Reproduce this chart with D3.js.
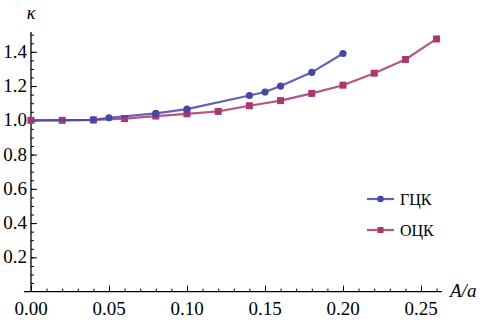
<!DOCTYPE html>
<html>
<head>
<meta charset="utf-8">
<script src="https://cdn.jsdelivr.net/npm/d3@7"></script>
<style>
  body { margin: 0; background: #fff; }
</style>
</head>
<body>
<div id="chart"></div>
<script>
var canvasWidth = 487;
var canvasHeight = 323;

/*Data*/
var fccX = [0, 0.04, 0.05, 0.08, 0.10, 0.14, 0.15, 0.16, 0.18, 0.20];
var fccK = [1.0, 1.003, 1.015, 1.04, 1.065, 1.145, 1.165, 1.2, 1.28, 1.39];
var bccX = [0, 0.02, 0.04, 0.06, 0.08, 0.10, 0.12, 0.14, 0.16, 0.18, 0.20, 0.22, 0.24, 0.26];
var bccK = [1.0, 1.0, 1.002, 1.01, 1.025, 1.038, 1.052, 1.085, 1.115, 1.157, 1.205, 1.275, 1.355, 1.475];
var seriesNames = ["ГЦК", "ОЦК"];
var xTicks = [0, 0.05, 0.10, 0.15, 0.20, 0.25];
var yTicks = [0.2, 0.4, 0.6, 0.8, 1.0, 1.2, 1.4];

var blue = "#4646a6";
var pink = "#a8386f";
var serif = "'Liberation Serif', 'Times New Roman', 'DejaVu Serif', serif";

var svg = d3.select("div#chart").append("svg")
    .attr("width", canvasWidth)
    .attr("height", canvasHeight)
    .style("font-family", serif);

/*Scales*/
var xScale = d3.scaleLinear().domain([0, 0.25]).range([31, 421]);
var yScale = d3.scaleLinear().domain([0, 1.4]).range([291.6, 51.8]);

/*Axis lines*/
var axes = svg.append("g").attr("stroke", "#000").attr("stroke-width", 1.3);
axes.append("line")
    .attr("x1", 24).attr("x2", 442)
    .attr("y1", yScale(0)).attr("y2", yScale(0));
axes.append("line")
    .attr("x1", xScale(0)).attr("x2", xScale(0))
    .attr("y1", yScale(0)).attr("y2", 32);

/*Ticks, drawn inward like Mathematica*/
var xMinor = d3.range(0, 27).map(function (i) { return i / 100; });
svg.append("g")
    .attr("transform", "translate(0," + yScale(0) + ")")
    .call(d3.axisTop(xScale).tickValues(xMinor).tickSize(3).tickFormat(""))
    .call(function (g) { g.select(".domain").remove(); });
svg.append("g")
    .attr("transform", "translate(0," + yScale(0) + ")")
    .call(d3.axisTop(xScale).tickValues(xTicks).tickSize(6).tickFormat(""))
    .call(function (g) { g.select(".domain").remove(); });

var yMinor = d3.range(1, 31).map(function (i) { return i * 0.05; });
svg.append("g")
    .attr("transform", "translate(" + xScale(0) + ",0)")
    .call(d3.axisRight(yScale).tickValues(yMinor).tickSize(3).tickFormat(""))
    .call(function (g) { g.select(".domain").remove(); });
svg.append("g")
    .attr("transform", "translate(" + xScale(0) + ",0)")
    .call(d3.axisRight(yScale).tickValues(yTicks).tickSize(6).tickFormat(""))
    .call(function (g) { g.select(".domain").remove(); });

/*Tick labels*/
svg.append("g").selectAll("text")
    .data(xTicks)
    .join("text")
    .attr("x", function (d) { return xScale(d); })
    .attr("y", 315)
    .attr("text-anchor", "middle")
    .style("font-size", "19px")
    .text(function (d) { return d3.format(".2f")(d); });

svg.append("g").selectAll("text")
    .data(yTicks)
    .join("text")
    .attr("x", 27)
    .attr("y", function (d) { return yScale(d) + 6; })
    .attr("text-anchor", "end")
    .style("font-size", "19px")
    .text(function (d) { return d3.format(".1f")(d); });

/*Axis titles*/
svg.append("text")
    .attr("x", 31).attr("y", 19)
    .attr("text-anchor", "middle")
    .style("font-size", "18px")
    .style("font-style", "italic")
    .text("κ");
svg.append("text")
    .attr("x", 450).attr("y", 297)
    .style("font-size", "19px")
    .style("font-style", "italic")
    .text("A/a");

/*Series*/
var fcc = fccX.map(function (x, i) { return {x: x, k: fccK[i]}; });
var bcc = bccX.map(function (x, i) { return {x: x, k: bccK[i]}; });

var line = d3.line()
    .x(function (d) { return xScale(d.x); })
    .y(function (d) { return yScale(d.k); });

svg.append("path").datum(bcc)
    .attr("fill", "none").attr("stroke", pink).attr("stroke-opacity", 0.85)
    .attr("stroke-width", 2.2).attr("d", line);
svg.append("g").selectAll("rect")
    .data(bcc)
    .join("rect")
    .attr("x", function (d) { return xScale(d.x) - 3.5; })
    .attr("y", function (d) { return yScale(d.k) - 3.5; })
    .attr("width", 7).attr("height", 7)
    .attr("fill", pink);

svg.append("path").datum(fcc)
    .attr("fill", "none").attr("stroke", blue).attr("stroke-opacity", 0.85)
    .attr("stroke-width", 2.2).attr("d", line);
svg.append("g").selectAll("circle")
    .data(fcc.filter(function (d) { return d.x > 0.01; }))
    .join("circle")
    .attr("cx", function (d) { return xScale(d.x); })
    .attr("cy", function (d) { return yScale(d.k); })
    .attr("r", 3.6)
    .attr("fill", blue);

/*Legend*/
var legend = svg.append("g");
var legendRows = [{name: seriesNames[0], color: blue, shape: "circle", y: 199},
                  {name: seriesNames[1], color: pink, shape: "square", y: 230}];
legendRows.forEach(function (r) {
    legend.append("line")
        .attr("x1", 367).attr("x2", 394)
        .attr("y1", r.y).attr("y2", r.y)
        .attr("stroke", r.color).attr("stroke-width", 2.2).attr("stroke-opacity", 0.85);
    if (r.shape === "circle") {
        legend.append("circle").attr("cx", 380.5).attr("cy", r.y).attr("r", 3.3).attr("fill", r.color);
    } else {
        legend.append("rect").attr("x", 377.5).attr("y", r.y - 3).attr("width", 6).attr("height", 6).attr("fill", r.color);
    }
    legend.append("text")
        .attr("x", 400).attr("y", r.y + 5.5)
        .style("font-size", "16px")
        .text(r.name);
});
</script>
</body>
</html>
